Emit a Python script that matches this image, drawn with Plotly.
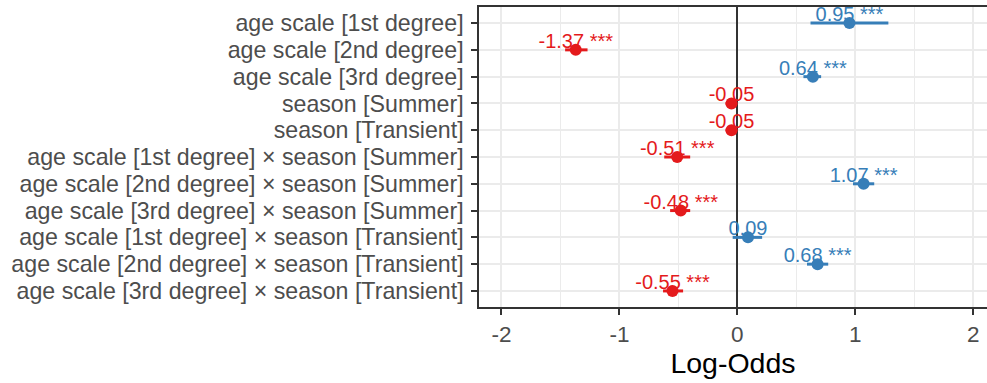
import plotly.graph_objects as go

categories = [
    "age scale [1st degree]",
    "age scale [2nd degree]",
    "age scale [3rd degree]",
    "season [Summer]",
    "season [Transient]",
    "age scale [1st degree] × season [Summer]",
    "age scale [2nd degree] × season [Summer]",
    "age scale [3rd degree] × season [Summer]",
    "age scale [1st degree] × season [Transient]",
    "age scale [2nd degree] × season [Transient]",
    "age scale [3rd degree] × season [Transient]",
]
estimates = [0.95, -1.37, 0.64, -0.05, -0.05, -0.51, 1.07, -0.48, 0.09, 0.68, -0.55]
ci_low = [0.62, -1.46, 0.56, -0.10, -0.10, -0.62, 0.98, -0.57, -0.04, 0.59, -0.63]
ci_high = [1.28, -1.27, 0.71, 0.00, 0.00, -0.40, 1.16, -0.40, 0.21, 0.77, -0.46]
stars = ["***", "***", "***", "", "", "***", "***", "***", "", "***", "***"]
x_ticks = [-2, -1, 0, 1, 2]

RED = "#E41A1C"
BLUE = "#377EB8"
FONT = "Liberation Sans"

pos = list(range(len(categories)))
colors = [BLUE if e > 0 else RED for e in estimates]
labels = [f"{e:.2f}" + (f" {s}" if s else "") for e, s in zip(estimates, stars)]
nudge = 0.26  # label nudge above point (axis reversed)

fig = go.Figure()

# value labels (drawn under the points)
fig.add_trace(go.Scatter(
    x=estimates, y=[p - nudge for p in pos], mode="text", text=labels,
    textposition="middle center",
    textfont=dict(family=FONT, size=20, color=colors),
    hoverinfo="skip", showlegend=False, cliponaxis=False,
))

# points with confidence intervals, one trace per colour
for col in (RED, BLUE):
    idx = [i for i, c in enumerate(colors) if c == col]
    fig.add_trace(go.Scatter(
        x=[estimates[i] for i in idx], y=[pos[i] for i in idx], mode="markers",
        marker=dict(size=12, color=col),
        error_x=dict(type="data", symmetric=False,
                     array=[ci_high[i] - estimates[i] for i in idx],
                     arrayminus=[estimates[i] - ci_low[i] for i in idx],
                     width=0, thickness=3, color=col),
        showlegend=False,
    ))

fig.update_layout(
    width=987, height=383,
    margin=dict(l=479, r=0, t=7, b=76),
    plot_bgcolor="white", paper_bgcolor="white",
    font=dict(family=FONT, color="#4D4D4D"),
    showlegend=False,
)

fig.update_xaxes(
    automargin=False,
    range=[-2.19, 2.116],
    tickvals=x_ticks, ticktext=[str(t) for t in x_ticks],
    tickfont=dict(size=22.5, color="#4D4D4D", family=FONT),
    ticks="outside", ticklen=6, tickwidth=1.5, tickcolor="#333333",
    showgrid=True, gridcolor="#EBEBEB", gridwidth=2,
    minor=dict(tickvals=[-1.5, -0.5, 0.5, 1.5], showgrid=True,
               gridcolor="#EBEBEB", gridwidth=1.2),
    zeroline=True, zerolinecolor="#333333", zerolinewidth=1.5,
    showline=True, linecolor="#333333", linewidth=1.5, mirror=True,
    title=dict(text="Log-Odds", font=dict(size=28.5, color="black", family=FONT),
               standoff=6),
)

fig.update_yaxes(
    automargin=False,
    range=[len(categories) - 1 + 0.6, -0.6],
    tickvals=pos, ticktext=categories,
    tickfont=dict(size=23.2, color="#4D4D4D", family=FONT),
    ticks="outside", ticklen=6, tickwidth=1.5, tickcolor="#333333",
    ticklabelstandoff=3,
    showgrid=True, gridcolor="#EBEBEB", gridwidth=2,
    zeroline=False,
    showline=True, linecolor="#333333", linewidth=1.5, mirror=False,
)

fig.write_html(
    "out.html",
    config={"displayModeBar": False},
    post_script="document.body.style.margin='0';document.body.style.overflow='hidden';",
)
